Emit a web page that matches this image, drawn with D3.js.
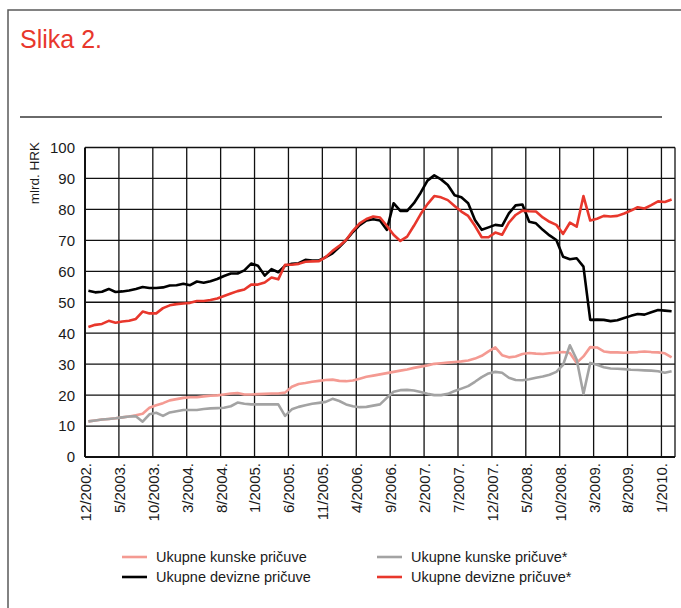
<!DOCTYPE html>
<html>
<head>
<meta charset="utf-8">
<script src="https://d3js.org/d3.v7.min.js"></script>
<title>Slika 2.</title>
<style>
  body { margin: 0; background: #fff; font-family: "Liberation Sans", Arial, sans-serif; }
  svg { display: block; }
</style>
</head>
<body>
<svg id="chart" width="681" height="608"></svg>
<script>
// tick labels, one every 5 months starting 12/2002
const tickLabels = ["12/2002.", "5/2003.", "10/2003.", "3/2004.", "8/2004.", "1/2005.", "6/2005.",
  "11/2005.", "4/2006.", "9/2006.", "2/2007.", "7/2007.", "12/2007.", "5/2008.", "10/2008.",
  "3/2009.", "8/2009.", "1/2010."];
const monthCount = 87; // 12/2002 .. 2/2010
const yTicks = [0, 10, 20, 30, 40, 50, 60, 70, 80, 90, 100];

// Ukupne kunske pričuve
const kunske = [11.5, 11.8, 12.1, 12.3, 12.5, 12.8, 13.1, 13.5, 14.0, 15.9,
  16.7, 17.4, 18.3, 18.7, 19.1, 19.3, 19.3, 19.6, 19.8, 19.9,
  20.2, 20.5, 20.7, 20.2, 20.2, 20.3, 20.4, 20.5, 20.5, 20.8,
  22.7, 23.6, 23.9, 24.3, 24.6, 24.9, 25.0, 24.6, 24.5, 24.7,
  25.3, 25.9, 26.3, 26.7, 27.1, 27.5, 27.9, 28.3, 28.8, 29.2,
  29.6, 30.1, 30.3, 30.5, 30.7, 30.9, 31.2, 31.8, 32.7, 34.1,
  35.4, 32.9, 32.2, 32.5, 33.3, 33.6, 33.4, 33.3, 33.5, 33.7,
  33.9, 33.6, 30.4, 32.5, 35.5, 35.4, 34.1, 33.8, 33.8, 33.7,
  33.8, 33.9, 34.1, 33.9, 33.8, 33.5, 32.2];

// Ukupne kunske pričuve*
const kunskeStar = [11.5, 11.8, 12.1, 12.3, 12.5, 12.8, 13.1, 13.2, 11.4, 13.8,
  14.3, 13.3, 14.4, 14.8, 15.2, 15.2, 15.2, 15.5, 15.7, 15.8,
  15.9, 16.4, 17.6, 17.2, 17.0, 17.0, 17.0, 17.0, 17.0, 13.3,
  15.4, 16.2, 16.7, 17.2, 17.5, 17.8, 18.8, 18.1, 17.0, 16.4,
  16.1, 16.2, 16.6, 17.0, 19.1, 21.1, 21.6, 21.7, 21.5, 21.0,
  20.4, 20.0, 20.0, 20.4, 21.3, 22.1, 22.9, 24.3, 25.8, 27.0,
  27.5, 27.2, 25.6, 24.9, 24.8, 25.1, 25.6, 26.0, 26.6, 27.5,
  29.8, 36.1, 31.5, 20.4, 30.4, 29.8, 29.0, 28.6, 28.5, 28.4,
  28.2, 28.1, 28.0, 27.9, 27.7, 27.2, 27.7];

// Ukupne devizne pričuve
const devizne = [53.7, 53.2, 53.4, 54.3, 53.3, 53.5, 53.8, 54.3, 54.9, 54.6,
  54.6, 54.8, 55.4, 55.5, 56.0, 55.5, 56.7, 56.3, 56.8, 57.5,
  58.5, 59.3, 59.3, 60.3, 62.5, 61.8, 58.6, 60.7, 59.7, 61.8,
  62.4, 62.6, 63.7, 63.5, 63.5, 64.6, 65.8, 67.8, 70.1, 72.7,
  74.9, 76.4, 76.8, 76.4, 73.4, 82.0, 79.5, 79.5, 82.0, 85.4,
  89.3, 91.0, 89.7, 87.9, 84.6, 83.9, 82.0, 76.6, 73.4, 74.2,
  75.0, 74.7, 78.7, 81.3, 81.6, 76.0, 75.5, 73.4, 71.6, 70.1,
  64.7, 63.9, 64.2, 61.5, 44.3, 44.4, 44.3, 43.9, 44.2, 44.9,
  45.6, 46.2, 46.0, 46.8, 47.5, 47.3, 47.1];

// Ukupne devizne pričuve*
const devizneStar = [42.0, 42.7, 43.0, 44.0, 43.4, 43.8, 44.0, 44.6, 47.0, 46.4,
  46.4, 48.1, 49.0, 49.4, 49.6, 49.8, 50.4, 50.4, 50.7, 51.2,
  52.0, 52.8, 53.6, 54.1, 55.7, 55.7, 56.4, 58.0, 57.4, 62.1,
  62.1, 62.4, 63.1, 63.2, 63.3, 64.6, 66.6, 68.2, 70.1, 73.1,
  75.5, 76.9, 77.7, 77.4, 74.7, 71.8, 69.8, 71.2, 74.7, 78.5,
  81.7, 84.3, 83.9, 83.0, 81.1, 79.3, 77.9, 74.7, 71.0, 71.0,
  72.5, 71.8, 75.7, 78.2, 79.6, 79.4, 79.3, 77.4, 76.0, 75.0,
  72.1, 75.7, 74.4, 84.3, 76.4, 77.0, 77.9, 77.7, 77.9, 78.7,
  79.6, 80.7, 80.3, 81.4, 82.6, 82.4, 83.2];

const seriesNames = ["Ukupne kunske pričuve", "Ukupne kunske pričuve*",
  "Ukupne devizne pričuve", "Ukupne devizne pričuve*"];
const seriesColors = ["#f49a92", "#a3a3a3", "#000000", "#e8372c"];
const seriesData = [kunske, kunskeStar, devizne, devizneStar];

// plot box (note: "top" is taken by window.top)
var plotLeft = 85, plotRight = 675, plotTop = 147.5, plotBottom = 457;

var svg = d3.select("#chart");

// outer frame + title
svg.append("rect")
  .attr("x", 8).attr("y", 10).attr("width", 700).attr("height", 620)
  .attr("fill", "none").attr("stroke", "#5a5a5a").attr("stroke-width", 1.5);

svg.append("text")
  .attr("x", 20).attr("y", 48)
  .style("font-size", "25px")
  .style("fill", "#e8372c")
  .text("Slika 2.");

svg.append("line")
  .attr("x1", 20).attr("x2", 662).attr("y1", 117).attr("y2", 117)
  .attr("stroke", "#6a6a6a").attr("stroke-width", 2);

// scales
var x = d3.scaleBand()
  .domain(d3.range(monthCount))
  .range([plotLeft, plotRight])
  .paddingInner(0).paddingOuter(0);

var y = d3.scaleLinear()
  .domain([0, 100])
  .range([plotBottom, plotTop]);

// horizontal grid
svg.append("g").selectAll("line")
  .data(yTicks)
  .enter()
  .append("line")
  .attr("x1", plotLeft).attr("x2", plotRight)
  .attr("y1", d => y(d)).attr("y2", d => y(d))
  .attr("stroke", "#111").attr("stroke-width", d => d == 0 ? 2 : 1.3);

// vertical grid, every 5th month
svg.append("g").selectAll("line")
  .data(tickLabels)
  .enter()
  .append("line")
  .attr("x1", (d, i) => x(i * 5)).attr("x2", (d, i) => x(i * 5))
  .attr("y1", plotTop).attr("y2", plotBottom)
  .attr("stroke", "#111").attr("stroke-width", (d, i) => i == 0 ? 2 : 1.3);

svg.append("line")
  .attr("x1", plotRight).attr("x2", plotRight).attr("y1", plotTop).attr("y2", plotBottom)
  .attr("stroke", "#111").attr("stroke-width", 1.3);

// y labels
svg.append("g").selectAll("text")
  .data(yTicks)
  .enter()
  .append("text")
  .attr("x", 75)
  .attr("y", d => y(d))
  .attr("dy", "0.36em")
  .attr("text-anchor", "end")
  .style("font-size", "15px")
  .style("fill", "#1a1a1a")
  .text(d => d);

svg.append("text")
  .attr("transform", "translate(34,142) rotate(-90)")
  .attr("text-anchor", "end")
  .attr("dy", "0.35em")
  .style("font-size", "13.5px")
  .style("fill", "#1a1a1a")
  .text("mlrd. HRK");

// x labels, rotated
svg.append("g").selectAll("text")
  .data(tickLabels)
  .enter()
  .append("text")
  .attr("transform", (d, i) => "translate(" + (x(i * 5) + 0.5) + "," + 463 + ") rotate(-90)")
  .attr("text-anchor", "end")
  .attr("dy", "0.36em")
  .style("font-size", "15px")
  .style("fill", "#1a1a1a")
  .text(d => d);

// series lines
var line = d3.line()
  .x((d, i) => x(i) + x.bandwidth() / 2)
  .y(d => y(d));

svg.append("g").selectAll("path")
  .data(seriesData)
  .enter()
  .append("path")
  .attr("d", d => line(d))
  .attr("fill", "none")
  .attr("stroke", (d, i) => seriesColors[i])
  .attr("stroke-width", 2.6)
  .attr("stroke-linejoin", "round");

// legend: two columns, two rows
var legendX = [122, 377];
var legendY = [557, 577];
var legend = svg.append("g").selectAll("g")
  .data(seriesNames)
  .enter()
  .append("g")
  .attr("transform", (d, i) => "translate(" + legendX[i % 2] + "," + legendY[Math.floor(i / 2)] + ")");

legend.append("line")
  .attr("x1", 0).attr("x2", 25).attr("y1", 0).attr("y2", 0)
  .attr("stroke", (d, i) => seriesColors[i])
  .attr("stroke-width", 2.6);

legend.append("text")
  .attr("x", 34)
  .attr("dy", "0.35em")
  .style("font-size", "14.5px")
  .style("fill", "#1a1a1a")
  .text(d => d);
</script>
</body>
</html>
